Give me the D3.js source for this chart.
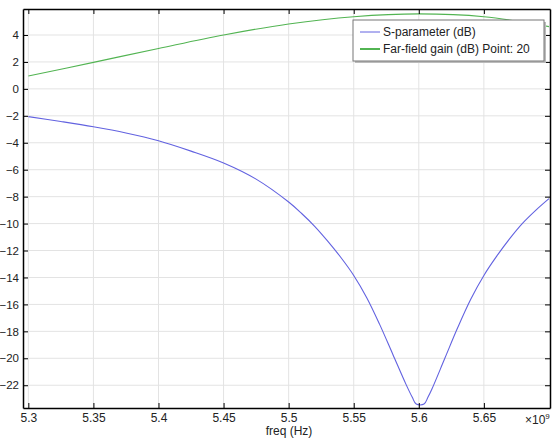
<!DOCTYPE html>
<html>
<head>
<meta charset="utf-8">
<script src="https://cdn.jsdelivr.net/npm/d3@7"></script>
<style>
  body { margin: 0; background: #fff; }
  text { font-family: "Liberation Sans", Arial, sans-serif; }
</style>
</head>
<body>
<div id="chart"></div>
<script>
// S-parameter curve (GHz, dB)
const sFreq = [5.30, 5.325, 5.35, 5.375, 5.40, 5.425, 5.45, 5.475, 5.50, 5.51, 5.52, 5.53, 5.54, 5.55, 5.56, 5.57, 5.58, 5.59, 5.595, 5.598, 5.604, 5.607, 5.61, 5.62, 5.63, 5.64, 5.65, 5.66, 5.67, 5.68, 5.69, 5.70];
const sVals = [-2.06, -2.42, -2.81, -3.27, -3.85, -4.62, -5.5, -6.7, -8.4, -9.25, -10.2, -11.3, -12.5, -13.85, -15.5, -17.5, -19.7, -21.9, -22.9, -23.4, -23.4, -22.9, -22.3, -20.0, -17.7, -15.6, -13.85, -12.4, -11.1, -9.95, -9.0, -8.15];

// Far-field gain curve (GHz, dB)
const gFreq = [5.30, 5.35, 5.40, 5.45, 5.50, 5.55, 5.60, 5.65, 5.70];
const gVals = [0.95, 1.97, 3.0, 4.0, 4.82, 5.36, 5.57, 5.36, 4.62];

const xTicks = [5.3, 5.35, 5.4, 5.45, 5.5, 5.55, 5.6, 5.65];
const yTicks = [4, 2, 0, -2, -4, -6, -8, -10, -12, -14, -16, -18, -20, -22];
const legendLabels = ["S-parameter (dB)", "Far-field gain (dB) Point: 20"];

const W = 559, H = 438;
const margin = { top: 9, right: 9, bottom: 30, left: 23 },
    width = W - margin.left - margin.right,
    height = H - margin.top - margin.bottom;

const svg = d3.select("#chart")
    .append("svg")
    .attr("width", W)
    .attr("height", H);

const g = svg.append("g")
    .attr("transform", `translate(${margin.left},${margin.top})`);

const x = d3.scaleLinear().domain([5.2959, 5.7008]).range([0, width]);
const y = d3.scaleLinear().domain([-23.69, 5.93]).range([height, 0]);

// grid
g.append("g").selectAll("line").data(xTicks).join("line")
    .attr("x1", d => x(d)).attr("x2", d => x(d))
    .attr("y1", 0).attr("y2", height)
    .attr("stroke", "#e3e3e3").attr("stroke-width", 1);
g.append("g").selectAll("line").data(yTicks).join("line")
    .attr("x1", 0).attr("x2", width)
    .attr("y1", d => y(d)).attr("y2", d => y(d))
    .attr("stroke", "#e3e3e3").attr("stroke-width", 1);

// curves
const sData = sFreq.map((f, i) => [f, sVals[i]]);
const gData = gFreq.map((f, i) => [f, gVals[i]]);
const line = d3.line().x(d => x(d[0])).y(d => y(d[1])).curve(d3.curveCatmullRom.alpha(0.5));

g.append("path").datum(gData)
    .attr("fill", "none").attr("stroke", "#52b452").attr("stroke-width", 1.1)
    .attr("d", line);
g.append("path").datum(sData)
    .attr("fill", "none").attr("stroke", "#6262e0").attr("stroke-width", 1.1)
    .attr("d", line);

// axes (ticks pointing inward, frame on all sides)
const axBottom = g.append("g").attr("transform", `translate(0,${height})`)
    .call(d3.axisBottom(x).tickValues(xTicks).tickSizeInner(-5).tickSizeOuter(0).tickPadding(5).tickFormat(d3.format("")));
const axTop = g.append("g")
    .call(d3.axisTop(x).tickValues(xTicks).tickSizeInner(-5).tickSizeOuter(0).tickFormat(""));
const axLeft = g.append("g")
    .call(d3.axisLeft(y).tickValues(yTicks).tickSizeInner(-5).tickSizeOuter(0).tickPadding(4).tickFormat(d3.format("")));
const axRight = g.append("g").attr("transform", `translate(${width},0)`)
    .call(d3.axisRight(y).tickValues(yTicks).tickSizeInner(-5).tickSizeOuter(0).tickFormat(""));

[axBottom, axTop, axLeft, axRight].forEach(a => {
    a.select(".domain").attr("stroke", "#000").attr("stroke-width", 1.5);
    a.selectAll(".tick line").attr("stroke", "#000");
    a.selectAll("text").attr("font-size", 12).attr("fill", "#222")
        .style("font-family", "Liberation Sans, Arial, sans-serif");
});
axLeft.selectAll("text").attr("font-size", 11.5);

// x axis title and exponent
svg.append("text")
    .attr("x", 289).attr("y", 435)
    .attr("text-anchor", "middle").attr("font-size", 12).attr("fill", "#222")
    .text("freq (Hz)");
const exp = svg.append("text")
    .attr("x", 525).attr("y", 424)
    .attr("font-size", 12).attr("fill", "#222");
exp.append("tspan").text("×10");
exp.append("tspan").attr("dy", -5).attr("font-size", 8).text("9");

// legend
const lg = svg.append("g").attr("transform", "translate(353,20)");
lg.append("rect").attr("x", 2).attr("y", 2).attr("width", 191).attr("height", 41)
    .attr("fill", "#bbb");
lg.append("rect").attr("width", 191).attr("height", 41)
    .attr("fill", "#fff").attr("stroke", "#777").attr("stroke-width", 1);
const legendColors = ["#6262e0", "#52b452"];
const legendWidths = [1, 2];
legendLabels.forEach((t, i) => {
    const yy = 12 + i * 17;
    lg.append("line").attr("x1", 7).attr("x2", 27).attr("y1", yy).attr("y2", yy)
        .attr("stroke", legendColors[i]).attr("stroke-width", legendWidths[i]);
    lg.append("text").attr("x", 30).attr("y", yy + 4)
        .attr("font-size", 12).attr("fill", "#222").text(t);
});
</script>
</body>
</html>
